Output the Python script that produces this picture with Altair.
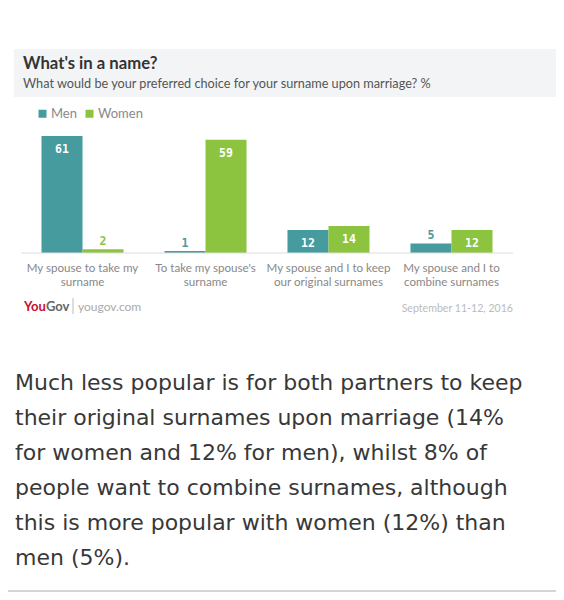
import altair as alt
import pandas as pd

categories = [
    "My spouse to take my surname",
    "To take my spouse's surname",
    "My spouse and I to keep our original surnames",
    "My spouse and I to combine surnames",
]
cat_lines = [
    "My spouse to take my\nsurname",
    "To take my spouse's\nsurname",
    "My spouse and I to keep\nour original surnames",
    "My spouse and I to\ncombine surnames",
]
series = ["Men", "Women"]
men = [61, 1, 12, 5]
women = [2, 59, 14, 12]
colors = ["#469b9e", "#8cc43f"]

title = "What's in a name?"
subtitle = "What would be your preferred choice for your surname upon marriage? %"
source_site = "yougov.com"
date_note = "September 11-12, 2016"
paragraph = [
    "Much less popular is for both partners to keep",
    "their original surnames upon marriage (14%",
    "for women and 12% for men), whilst 8% of",
    "people want to combine surnames, although",
    "this is more popular with women (12%) than",
    "men (5%).",
]

rows = []
for c, m, w in zip(categories, men, women):
    rows.append({"category": c, "series": "Men", "value": m})
    rows.append({"category": c, "series": "Women", "value": w})
df = pd.DataFrame(rows)
cat_df = pd.DataFrame({"category": categories, "label": cat_lines})

FONT = "Lato"
W, H = 548, 584

xscale = alt.Scale(domain=categories, range=[13, 505], paddingInner=0.333, paddingOuter=0.1667)
yscale = alt.Scale(domain=[0, 100], range=[245, 53])
cscale = alt.Scale(domain=series, range=colors)
oscale = alt.Scale(domain=series, paddingInner=0, paddingOuter=0)

one = alt.Data(values=[{}])

band = alt.Chart(one).mark_rect(color="#f3f4f6").encode(
    x=alt.value(6), x2=alt.value(W), y=alt.value(41), y2=alt.value(89)
)
title_t = alt.Chart(pd.DataFrame({"t": [title]})).mark_text(
    font=FONT, fontSize=16.7, fontWeight="bold", color="#333333", align="left", baseline="alphabetic"
).encode(text="t:N", x=alt.value(15), y=alt.value(60.5))
sub_t = alt.Chart(pd.DataFrame({"t": [subtitle]})).mark_text(
    font=FONT, fontSize=12.7, color="#555555", align="left", baseline="alphabetic"
).encode(text="t:N", x=alt.value(15), y=alt.value(79.5))

bars = alt.Chart(df).mark_bar().encode(
    x=alt.X("category:N", scale=xscale, sort=categories, axis=None),
    xOffset=alt.XOffset("series:N", scale=oscale, sort=series),
    y=alt.Y("value:Q", scale=yscale, axis=None),
    color=alt.Color(
        "series:N", scale=cscale, sort=series,
        legend=alt.Legend(
            orient="none", legendX=28, legendY=99, direction="horizontal", title=None,
            symbolType="square", symbolSize=64, symbolStrokeWidth=0, labelFont=FONT,
            labelFontSize=13, labelColor="#8a8a8a", labelOffset=2, columnPadding=6, padding=0,
        ),
    ),
)

inside = alt.Chart(df).transform_filter("datum.value >= 10").mark_text(
    font="DejaVu Sans Mono", fontWeight="bold", fontSize=11.5, color="white",
    baseline="alphabetic", dy=17,
).encode(
    x=alt.X("category:N", scale=xscale, sort=categories, axis=None),
    xOffset=alt.XOffset("series:N", scale=oscale, sort=series),
    y=alt.Y("value:Q", scale=yscale, axis=None),
    text="value:Q",
)
outside = alt.Chart(df).transform_filter("datum.value < 10").mark_text(
    font="DejaVu Sans Mono", fontWeight="bold", fontSize=11.5,
    baseline="alphabetic", dy=-4,
).encode(
    x=alt.X("category:N", scale=xscale, sort=categories, axis=None),
    xOffset=alt.XOffset("series:N", scale=oscale, sort=series),
    y=alt.Y("value:Q", scale=yscale, axis=None),
    text="value:Q",
    color=alt.Color("series:N", scale=cscale, legend=None),
)

baseline_rule = alt.Chart(one).mark_rule(color="#dddddd", strokeWidth=1).encode(
    x=alt.value(13), x2=alt.value(505), y=alt.datum(0, scale=yscale)
)

cat_t = alt.Chart(cat_df).mark_text(
    font=FONT, fontSize=11.6, color="#888888", baseline="alphabetic", lineBreak="\n", lineHeight=14
).encode(
    x=alt.X("category:N", scale=xscale, sort=categories, axis=None),
    y=alt.value(263.5),
    text="label:N",
)

you_t = alt.Chart(pd.DataFrame({"t": ["You"]})).mark_text(
    font=FONT, fontSize=13, fontWeight="bold", color="#c8102e", align="left", baseline="alphabetic"
).encode(text="t:N", x=alt.value(16), y=alt.value(303))
gov_t = alt.Chart(pd.DataFrame({"t": ["Gov"]})).mark_text(
    font=FONT, fontSize=13, fontWeight="bold", color="#666666", align="left", baseline="alphabetic"
).encode(text="t:N", x=alt.value(38), y=alt.value(303))
sep_rule = alt.Chart(one).mark_rule(color="#bbbbbb").encode(
    x=alt.value(65), y=alt.value(290), y2=alt.value(306)
)
site_t = alt.Chart(pd.DataFrame({"t": [source_site]})).mark_text(
    font=FONT, fontSize=12, color="#aaaaaa", align="left", baseline="alphabetic"
).encode(text="t:N", x=alt.value(70), y=alt.value(303))
date_t = alt.Chart(pd.DataFrame({"t": [date_note]})).mark_text(
    font=FONT, fontSize=10.6, color="#bbbbbb", align="right", baseline="alphabetic"
).encode(text="t:N", x=alt.value(505), y=alt.value(304))

para_t = alt.Chart(pd.DataFrame({"t": ["\n".join(paragraph)]})).mark_text(
    font="DejaVu Sans", fontSize=22, color="#383838", align="left", baseline="alphabetic",
    lineBreak="\n", lineHeight=35.1,
).encode(text="t:N", x=alt.value(7), y=alt.value(381.5))

bottom_rule = alt.Chart(one).mark_rule(color="#d5d5d5", strokeWidth=2).encode(
    x=alt.value(-8), x2=alt.value(W + 8), y=alt.value(H - 1)
)

chart = alt.layer(
    band, title_t, sub_t, bars, inside, outside, baseline_rule, cat_t,
    you_t, gov_t, sep_rule, site_t, date_t, para_t, bottom_rule,
).properties(
    width=W, height=H, padding=0, autosize=alt.AutoSizeParams(type="none"),
).configure(background="white").configure_view(strokeWidth=0, stroke="transparent")

chart.save("out.html", embed_options={"renderer": "svg", "actions": False})
